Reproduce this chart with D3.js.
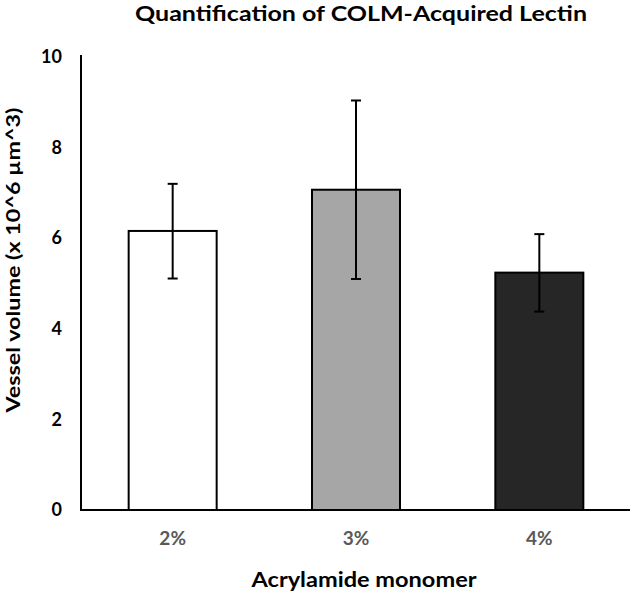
<!DOCTYPE html>
<html>
<head>
<meta charset="utf-8">
<script src="https://cdn.jsdelivr.net/npm/d3@7"></script>
<style>
  body { margin: 0; background: #fff; }
  text { font-family: Lato, "Open Sans", sans-serif; font-weight: bold; }
</style>
</head>
<body>
<div id="chart"></div>
<script>
// donnees
var categories = ["2%", "3%", "4%"];
var moyennes = [6.16, 7.07, 5.24];
var erreurHaut = [7.2, 9.04, 6.09];
var erreurBas = [5.11, 5.1, 4.38];
var couleurs = ["#ffffff", "#a6a6a6", "#262626"];
var yTicks = [0, 2, 4, 6, 8, 10];

var largeur = 632, hauteur = 593;
var marge = {haut: 57, droite: 1, bas: 83, gauche: 81};

var svg = d3.select("#chart").append("svg")
    .attr("width", largeur).attr("height", hauteur);

var x = d3.scaleBand()
    .domain(categories)
    .range([marge.gauche, largeur - marge.droite])
    .paddingInner(0.52).paddingOuter(0.26);

var y = d3.scaleLinear()
    .domain([0, 10])
    .range([hauteur - marge.bas, marge.haut]);

// barres
svg.selectAll("rect.barre").data(categories).enter().append("rect")
    .attr("class", "barre")
    .attr("x", d => x(d))
    .attr("width", x.bandwidth())
    .attr("y", (d, i) => y(moyennes[i]))
    .attr("height", (d, i) => y(0) - y(moyennes[i]))
    .style("fill", (d, i) => couleurs[i])
    .style("stroke", "#000")
    .style("stroke-width", 2);

// barres d'erreur
var cx = d => x(d) + x.bandwidth() / 2;
svg.selectAll("line.err").data(categories).enter().append("line")
    .attr("x1", cx).attr("x2", cx)
    .attr("y1", (d, i) => y(erreurHaut[i]))
    .attr("y2", (d, i) => y(erreurBas[i]))
    .style("stroke", "#000").style("stroke-width", 2);
[erreurHaut, erreurBas].forEach(function(serie) {
  svg.selectAll(null).data(categories).enter().append("line")
      .attr("x1", d => cx(d) - 5).attr("x2", d => cx(d) + 5)
      .attr("y1", (d, i) => y(serie[i]))
      .attr("y2", (d, i) => y(serie[i]))
      .style("stroke", "#000").style("stroke-width", 2);
});

// axe y
var axeY = svg.append("g")
    .attr("transform", "translate(" + marge.gauche + ",0)")
    .call(d3.axisLeft(y).tickValues(yTicks).tickSize(0).tickPadding(19));
axeY.select(".domain").style("stroke", "#000").style("stroke-width", 2)
    .attr("d", "M0," + (y(10) - 2) + "V" + (y(0) + 1));
axeY.selectAll("text").style("font-size", "18px").style("fill", "#000")
    .style("font-family", "Lato, sans-serif");

// axe x
var axeX = svg.append("g")
    .attr("transform", "translate(0," + y(0) + ")")
    .call(d3.axisBottom(x).tickSize(0).tickPadding(22));
axeX.select(".domain").style("stroke", "#000").style("stroke-width", 2)
    .attr("d", "M" + marge.gauche + ",0H" + (largeur - marge.droite - 1));
axeX.selectAll("text").style("font-size", "19px").style("fill", "#595959")
    .style("font-family", "Lato, sans-serif");

// titres
svg.append("text")
    .attr("x", 361).attr("y", 21)
    .attr("text-anchor", "middle")
    .attr("textLength", 452).attr("lengthAdjust", "spacingAndGlyphs")
    .style("font-size", "20px")
    .text("Quantification of COLM-Acquired Lectin");

svg.append("text")
    .attr("x", 364).attr("y", 587)
    .attr("text-anchor", "middle")
    .attr("textLength", 225).attr("lengthAdjust", "spacingAndGlyphs")
    .style("font-size", "20px")
    .text("Acrylamide monomer");

svg.append("text")
    .attr("transform", "translate(20,260) rotate(-90)")
    .attr("text-anchor", "middle")
    .attr("textLength", 305).attr("lengthAdjust", "spacingAndGlyphs")
    .style("font-size", "19px")
    .text("Vessel volume (x 10^6 µm^3)");
</script>
</body>
</html>
